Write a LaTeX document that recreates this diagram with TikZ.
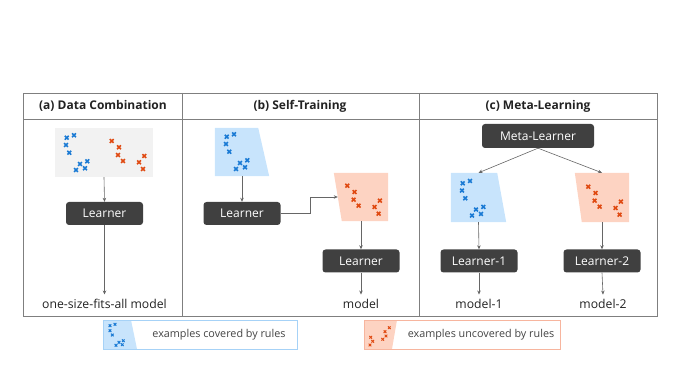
\documentclass[tikz,border=0pt]{standalone}
\usepackage{fontspec}
\setmainfont{Open Sans}
\usetikzlibrary{calc,arrows.meta}
\definecolor{framec}{HTML}{7F7F7F}
\definecolor{arrc}{HTML}{666666}
\definecolor{boxc}{HTML}{404040}
\definecolor{grayfill}{HTML}{F2F2F2}
\definecolor{bluex}{HTML}{1A7AD4}
\definecolor{redx}{HTML}{E04A12}
\definecolor{bluefill}{HTML}{C8E4FC}
\definecolor{redfill}{HTML}{FDD3C2}
\definecolor{bluedraw}{HTML}{A6D2F7}
\definecolor{reddraw}{HTML}{F7B59E}
\definecolor{txt}{HTML}{222222}
\newcommand\bluepat[3]{%
  \foreach \dx/\dy in {0/0,7.3/-2.4,-0.7/7.3,2.6/15,13.3/26.3,20.6/23.6,9.3/32.3,18.3/30.6}
    \draw[bluex,line width=1.6pt] (#1+\dx*#3-#3*1.9,#2+\dy*#3-#3*1.9) -- ++(3.8*#3,3.8*#3) ++(-3.8*#3,0) -- ++(3.8*#3,-3.8*#3);}
\newcommand\redpat[2]{%
  \foreach \dx/\dy in {0/0,7.3/6.3,6.3/14,11.3/20,32.6/15,27.3/21.3,31.3/28}
    \draw[redx,line width=1.6pt] (#1+\dx-1.9,#2+\dy-1.9) -- ++(3.8,3.8) ++(-3.8,0) -- ++(3.8,-3.8);}
\newcommand\smallx[3]{\draw[#1,line width=1pt] (#2-1.3,#3-1.3) -- ++(2.6,2.6) ++(-2.6,0) -- ++(2.6,-2.6);}
\tikzset{
  learnerbox/.style={draw=none,fill=boxc,rounded corners=3pt,text=white,font=\fontsize{12}{14}\selectfont,minimum width=77pt,minimum height=23pt,inner sep=0pt},
  trapbox/.style={draw=none,minimum width=#1,minimum height=48pt,inner sep=0pt},
  labeltext/.style={text=txt,font=\fontsize{12.2}{14}\selectfont,anchor=base,inner sep=4pt},
  headtext/.style={text=txt,font=\bfseries\fontsize{12}{14}\selectfont},
  legtext/.style={text=txt!85,font=\fontsize{10.8}{12}\selectfont},
  arr/.style={draw=arrc,line width=0.6pt,-{Stealth[length=4pt,width=3.5pt]}},
  frame/.style={draw=framec,line width=0.8pt}
}
\begin{document}
\begin{tikzpicture}[x=1pt,y=-1pt]
\useasboundingbox (0,0) rectangle (677,379);
% frame
\draw[frame] (23,93) rectangle (657,316);
\draw[frame] (23,119) -- (657,119);
\draw[frame] (182,93) -- (182,316);
\draw[frame] (419,93) -- (419,316);
\node[headtext] (ha) at (103,106) {(a) Data Combination};
\node[headtext] (hb) at (300,106) {(b) Self-Training};
\node[headtext] (hc) at (538,106) {(c) Meta-Learning};
% panel a
\node[fill=grayfill,minimum width=98pt,minimum height=49pt,inner sep=0pt] (ga) at (104,152.5) {};
\bluepat{66.7}{137.7}{1}
\redpat{111.7}{141}
\node[learnerbox] (la) at (104.5,213.5) {Learner};
\node[labeltext] (ma) at (104.5,308) {one-size-fits-all model};
\draw[arr] (ga.south) -- (la.north);
\draw[arr] (la.south) -- (ma.north);
% panel b
\node[trapbox=54pt] (btb) at (242,152) {};
\fill[bluefill] (btb.north west) -- ($(btb.north east)+(-11,0)$) -- (btb.south east) -- (btb.south west) -- cycle;
\bluepat{226.7}{136.7}{1}
\node[learnerbox] (lb1) at (242,213.5) {Learner};
\draw[arr] (btb.south) -- (lb1.north);
\node[trapbox=54pt] (rtb) at (361,197) {};
\fill[redfill] (rtb.north west) -- (rtb.north east) -- (rtb.south east) -- ($(rtb.south west)+(8,0)$) -- cycle;
\redpat{347.3}{185.7}
\draw[arr] (lb1.east) -- ++(30,0) |- ($(rtb.west)+(4,0)$);
\node[learnerbox] (lb2) at (361,261) {Learner};
\draw[arr] (rtb.south) -- (lb2.north);
\node[labeltext] (mb) at (361,308) {model};
\draw[arr] (lb2.south) -- (mb.north);
% panel c
\node[learnerbox,minimum width=112pt,minimum height=24pt] (meta) at (538,136) {Meta-Learner};
\node[trapbox=55pt,minimum height=49pt] (btc) at (478.5,197.5) {};
\fill[bluefill] (btc.north west) -- ($(btc.north east)+(-9,0)$) -- (btc.south east) -- (btc.south west) -- cycle;
\bluepat{462.7}{183.3}{1}
\node[trapbox=54pt,minimum height=49pt] (rtc) at (602,197.5) {};
\fill[redfill] (rtc.north west) -- (rtc.north east) -- (rtc.south east) -- ($(rtc.south west)+(7,0)$) -- cycle;
\redpat{588.3}{186.7}
\draw[arr] (meta.south) -- (btc.north);
\draw[arr] (meta.south) -- (rtc.north);
\node[learnerbox] (lc1) at (479,261) {Learner-1};
\node[learnerbox] (lc2) at (602,261) {Learner-2};
\draw[arr] (btc.south) -- (lc1.north);
\draw[arr] (rtc.south) -- (lc2.north);
\node[labeltext] (mc1) at (479,308) {model-1};
\node[labeltext] (mc2) at (603,308) {model-2};
\draw[arr] (lc1.south) -- (mc1.north);
\draw[arr] (lc2.south) -- (mc2.north);
% legend
\fill[bluefill] (103,320) -- (131,320) -- (137,349) -- (103,349) -- cycle;
\foreach \px/\py in {110/325.7,115/324.3,110/330.7,112.3/335,119/342.3,123.3/340.7,116/345.3,122.3/344.7} {\smallx{bluex}{\px}{\py}}
\node[draw=bluedraw,line width=0.8pt,minimum width=194pt,minimum height=29pt,inner sep=0pt] (lg1) at (200,334.5) {};
\node[legtext] (lt1) at (219,335) {examples covered by rules};
\fill[redfill] (364,320) -- (397,320) -- (392,349) -- (364,349) -- cycle;
\foreach \px/\py in {389.3/327.7,385/331.7,386/336,382.7/339.3,372.7/341.3,370.7/337.3,370/345} {\smallx{redx}{\px}{\py}}
\node[draw=reddraw,line width=0.8pt,minimum width=196pt,minimum height=29pt,inner sep=0pt] (lg2) at (462,334.5) {};
\node[legtext] (lt2) at (481,335) {examples uncovered by rules};
\end{tikzpicture}
\end{document}
